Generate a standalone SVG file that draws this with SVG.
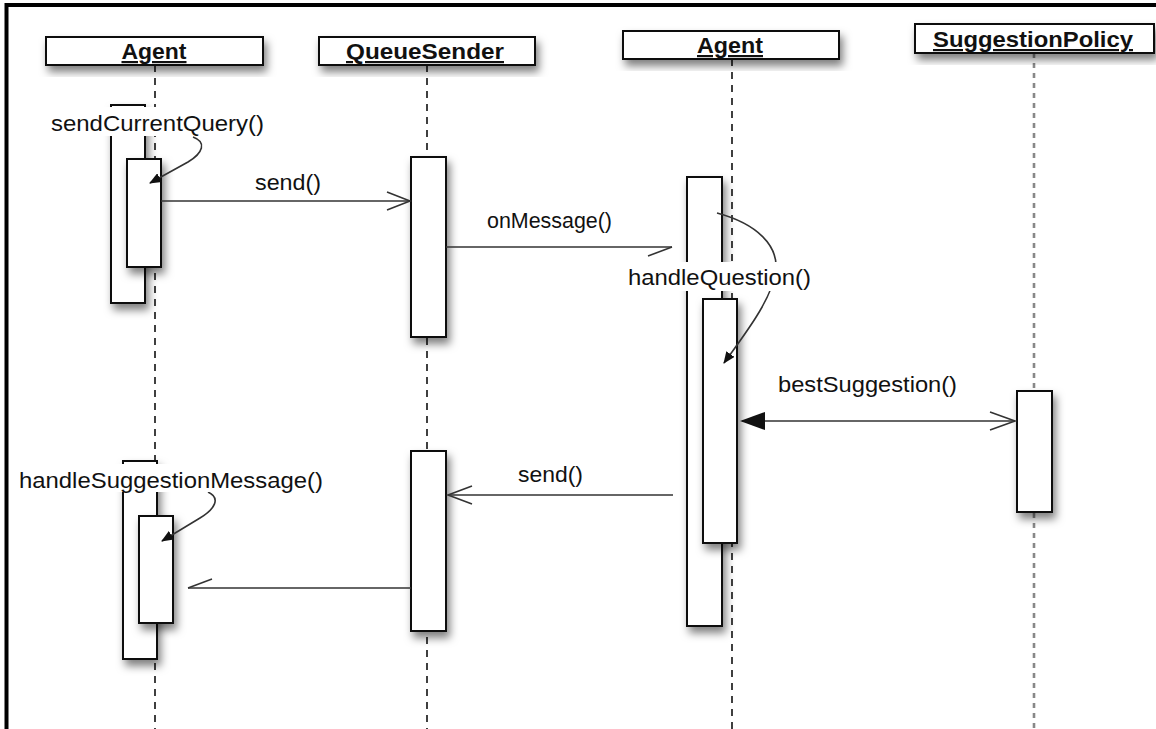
<svg xmlns="http://www.w3.org/2000/svg" width="1156" height="729" viewBox="0 0 1156 729">
  <style>
    .frame { stroke: #000; stroke-width: 4; fill: none; }
    .head { fill: #fff; stroke: #111; stroke-width: 2; }
    .htext { font-family: "Liberation Sans", Arial, sans-serif; font-weight: bold; font-size: 22px; fill: #111; text-decoration: underline; }
    .life { stroke: #111; stroke-width: 1.6; stroke-dasharray: 7 6; fill: none; }
    .life-grey { stroke: #888; stroke-width: 2.6; stroke-dasharray: 5 5; fill: none; }
    .act { fill: #fff; stroke: #111; stroke-width: 2; }
    .msg { stroke: #333; stroke-width: 1.6; fill: none; }
    .tip { stroke: #333; stroke-width: 1.6; fill: none; }
    .label { font-family: "Liberation Sans", Arial, sans-serif; font-size: 22px; fill: #111; }
    .mask { fill: #fff; }
  </style>
  <defs>
    <filter id="shadow" x="-40%" y="-40%" width="180%" height="180%">
      <feDropShadow dx="3" dy="6" stdDeviation="4" flood-color="#000" flood-opacity="0.5"/>
    </filter>
    <marker id="solid" viewBox="0 0 12 10" refX="11" refY="5" markerWidth="12" markerHeight="10" markerUnits="userSpaceOnUse" orient="auto">
      <path d="M0,0 L12,5 L0,10 Z" fill="#111"/>
    </marker>
  </defs>

  <rect width="1156" height="729" fill="#fff"/>

  <!-- outer frame -->
  <path class="frame" d="M6.5,729 L6.5,5 L1156,5"/>

  <!-- lifelines -->
  <g id="lifelines">
    <line class="life" x1="155" y1="65" x2="155" y2="729"/>
    <line class="life" x1="427" y1="65" x2="427" y2="729"/>
    <line class="life" x1="732" y1="59" x2="732" y2="729"/>
    <line class="life-grey" x1="1034" y1="53" x2="1034" y2="729"/>
  </g>

  <!-- object headers -->
  <g id="agent-a">
    <rect class="head" x="46" y="37" width="217" height="28" filter="url(#shadow)"/>
    <text class="htext" x="154" y="59" text-anchor="middle" textLength="65" lengthAdjust="spacingAndGlyphs">Agent</text>
  </g>
  <g id="queue-sender">
    <rect class="head" x="319" y="37" width="216" height="28" filter="url(#shadow)"/>
    <text class="htext" x="425" y="59" text-anchor="middle" textLength="158" lengthAdjust="spacingAndGlyphs">QueueSender</text>
  </g>
  <g id="agent-b">
    <rect class="head" x="623" y="31" width="216" height="28" filter="url(#shadow)"/>
    <text class="htext" x="730" y="53" text-anchor="middle" textLength="66" lengthAdjust="spacingAndGlyphs">Agent</text>
  </g>
  <g id="suggestion-policy">
    <rect class="head" x="915" y="24" width="239" height="29" filter="url(#shadow)"/>
    <text class="htext" x="1033" y="47" text-anchor="middle" textLength="200" lengthAdjust="spacingAndGlyphs">SuggestionPolicy</text>
  </g>

  <!-- activation bars -->
  <g id="agent-a-activations">
    <rect class="act" x="111" y="105" width="34" height="198" filter="url(#shadow)"/>
    <rect class="act" x="127" y="159" width="34" height="108" filter="url(#shadow)"/>
    <rect class="act" x="123" y="461" width="34" height="198" filter="url(#shadow)"/>
    <rect class="act" x="139" y="516" width="34" height="107" filter="url(#shadow)"/>
  </g>
  <g id="queue-sender-activations">
    <rect class="act" x="411" y="157" width="35" height="180" filter="url(#shadow)"/>
    <rect class="act" x="411" y="451" width="35" height="180" filter="url(#shadow)"/>
  </g>
  <g id="agent-b-activations">
    <rect class="act" x="687" y="177" width="35" height="449" filter="url(#shadow)"/>
    <rect class="act" x="703" y="299" width="34" height="244" filter="url(#shadow)"/>
  </g>
  <g id="suggestion-policy-activation">
    <rect class="act" x="1017" y="391" width="35" height="121" filter="url(#shadow)"/>
  </g>

  <!-- messages -->
  <g id="connectors">
    <!-- send() -->
    <line class="msg" x1="161" y1="201" x2="410" y2="201"/>
    <path class="tip" d="M387,192 L410,201 L387,210"/>
    <!-- onMessage() -->
    <line class="msg" x1="446" y1="247" x2="672" y2="247"/>
    <path class="tip" d="M648,256 L672,247"/>
    <!-- bestSuggestion() -->
    <line class="msg" x1="742" y1="421" x2="1015" y2="421"/>
    <path d="M740,421 L765,412 L765,430 Z" fill="#111"/>
    <path class="tip" d="M990,412 L1015,421 L990,430"/>
    <!-- send() back to QueueSender -->
    <line class="msg" x1="673" y1="495" x2="448" y2="495"/>
    <path class="tip" d="M472,486 L448,495 L472,504"/>
    <!-- reply to Agent -->
    <line class="msg" x1="411" y1="588" x2="188" y2="588"/>
    <path class="tip" d="M212,579 L188,588"/>
    <!-- self calls -->
    <path class="msg" d="M193,137 C207,142 203,153 188,162 L150,183" marker-end="url(#solid)"/>
    <path class="msg" d="M208,492 C221,498 215,509 200,518 L162,541" marker-end="url(#solid)"/>
    <path class="msg" d="M717,213 C758,224 778,246 776,270 C772,300 744,335 724,363" marker-end="url(#solid)"/>
  </g>

  <!-- message labels (white backing hides the lines behind them) -->
  <g id="labels">
    <rect class="mask" x="50" y="107" width="216" height="29"/>
    <text class="label" x="51" y="131" textLength="213" lengthAdjust="spacingAndGlyphs">sendCurrentQuery()</text>
    <text class="label" x="255" y="190" textLength="66" lengthAdjust="spacingAndGlyphs">send()</text>
    <text class="label" x="487" y="228" textLength="125" lengthAdjust="spacingAndGlyphs">onMessage()</text>
    <rect class="mask" x="627" y="262" width="186" height="29"/>
    <text class="label" x="628" y="285" textLength="183" lengthAdjust="spacingAndGlyphs">handleQuestion()</text>
    <text class="label" x="778" y="392" textLength="179" lengthAdjust="spacingAndGlyphs">bestSuggestion()</text>
    <text class="label" x="518" y="482" textLength="65" lengthAdjust="spacingAndGlyphs">send()</text>
    <rect class="mask" x="18" y="464" width="307" height="28"/>
    <text class="label" x="19" y="488" textLength="304" lengthAdjust="spacingAndGlyphs">handleSuggestionMessage()</text>
  </g>
</svg>
